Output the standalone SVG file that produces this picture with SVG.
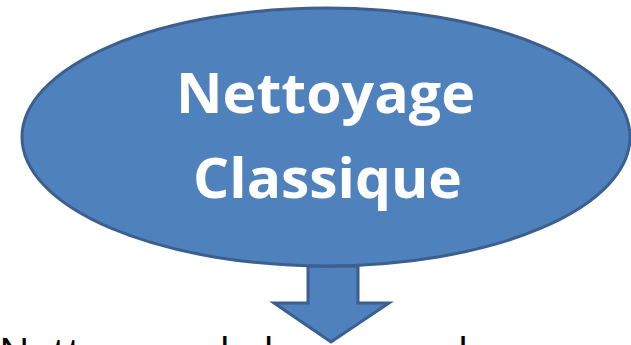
<svg xmlns="http://www.w3.org/2000/svg" width="631" height="345" viewBox="0 0 631 345">
<style>
.shape{fill:#4F81BD;stroke:#3B5F8E;stroke-width:3;stroke-linejoin:miter}
.title{font-family:"Open Sans","Liberation Sans",sans-serif;font-weight:bold;font-size:56px;fill:#FFFFFF;text-anchor:start}
.body{font-family:"Open Sans","Liberation Sans",sans-serif;font-size:40px;fill:#000000}
</style>
<rect width="631" height="345" fill="#FFFFFF"/>
<g id="connectors">
<path class="shape" d="M308,266 L358,266 L358,303 L389,303 L331,342 L274,303 L308,303 Z"/>
</g>
<g id="node-classique">
<ellipse class="shape" cx="326" cy="137" rx="304" ry="129"/>
<text class="title" x="176" y="113" textLength="299" lengthAdjust="spacingAndGlyphs">Nettoyage</text>
<text class="title" x="193" y="198" textLength="269" lengthAdjust="spacingAndGlyphs">Classique</text>
</g>
<g id="node-bureaux">
<text class="body" x="-1" y="367" textLength="492" lengthAdjust="spacingAndGlyphs">Nettoyage de bureaux, de</text>
</g>
</svg>
